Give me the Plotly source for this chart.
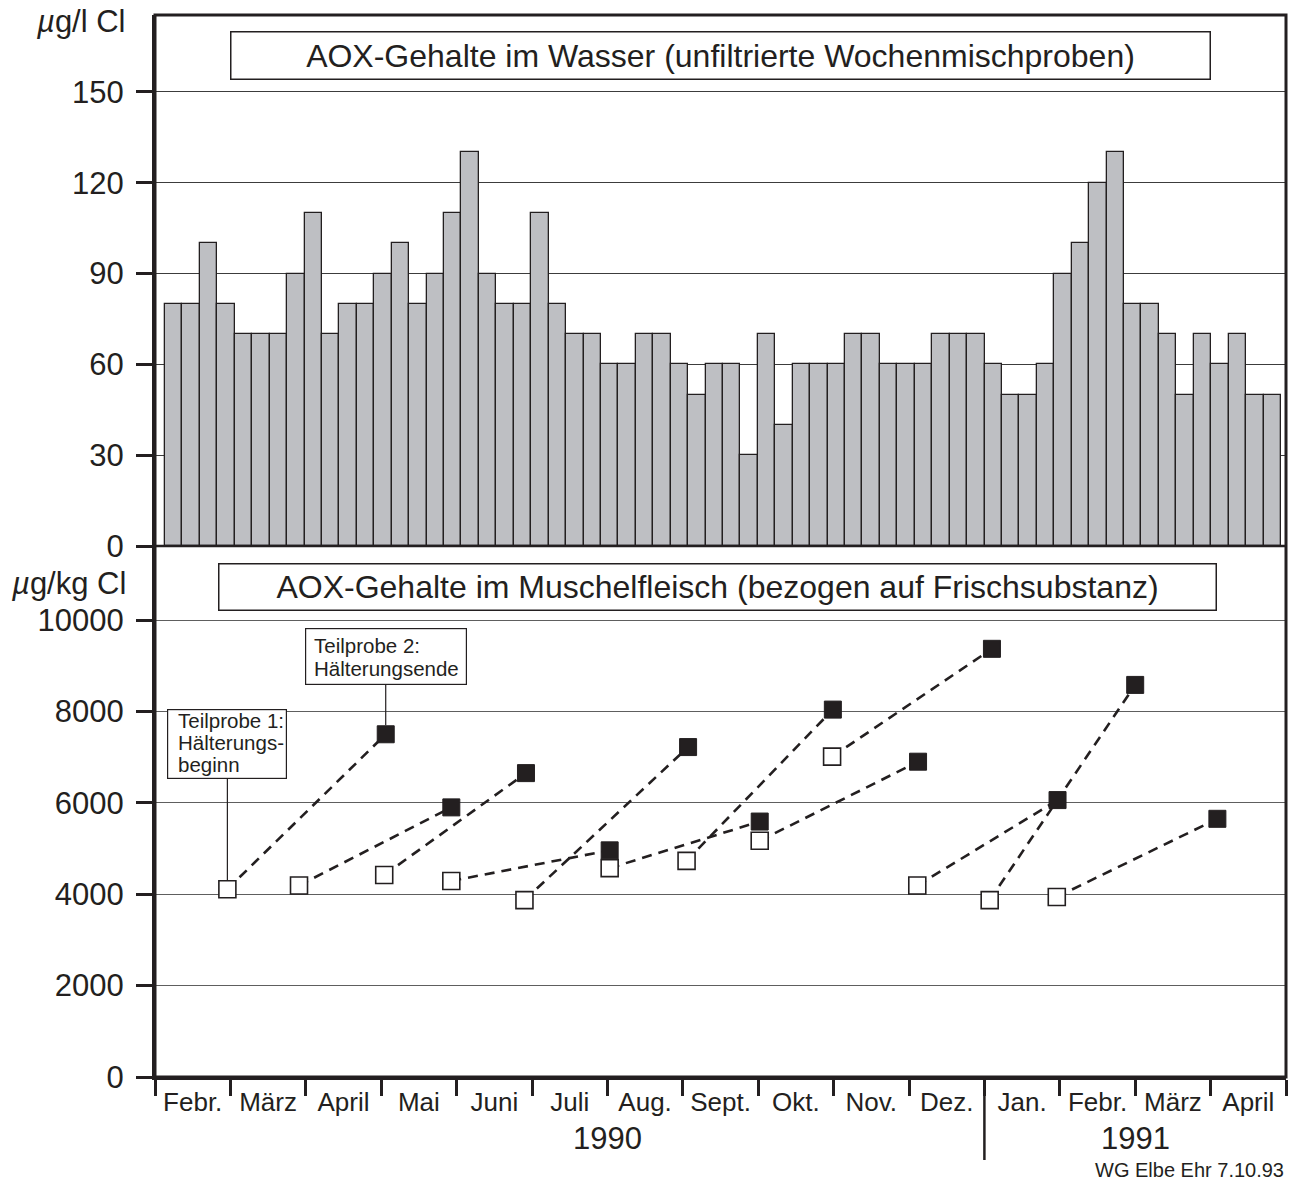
import plotly.graph_objects as go

# ---------------- data ----------------
months = ["Febr.", "März", "April", "Mai", "Juni", "Juli", "Aug.", "Sept.", "Okt.",
          "Nov.", "Dez.", "Jan.", "Febr.", "März", "April"]
years = ["1990", "1991"]
year_centers = [6.0, 13.0]          # in months since 1 Feb 1990
year_break = 11.0                   # Dez./Jan. boundary

# weekly AOX in water (µg/l Cl), 64 weekly composite samples
water_aox = [80, 80, 100, 80, 70, 70, 70, 90, 110, 70,
             80, 80, 90, 100, 80, 90, 110, 130, 90, 80,
             80, 110, 80, 70, 70, 60, 60, 70, 70, 60,
             50, 60, 60, 30, 70, 40, 60, 60, 60, 70,
             70, 60, 60, 60, 70, 70, 70, 60, 50, 50,
             60, 90, 100, 120, 130, 80, 80, 70, 50, 70,
             60, 70, 50, 50]
first_week_start = 0.133            # months since 1 Feb 1990 (5 Feb 1990)
week_len = 7 / 30.27                # one week in months

# mussel tissue AOX (µg/kg Cl): Teilprobe 1 (begin) and Teilprobe 2 (end)
begin_t = [0.96, 1.91, 3.04, 3.93, 4.90, 6.03, 7.05, 8.02, 8.98, 10.11, 11.07, 11.96]
begin_v = [4110, 4190, 4420, 4290, 3870, 4570, 4730, 5170, 7010, 4190, 3870, 3940]
end_t = [3.06, 3.93, 4.92, 6.03, 7.07, 8.02, 8.99, 10.12, 11.10, 11.97, 13.00, 14.09]
end_v = [7500, 5900, 6650, 4960, 7220, 5590, 8040, 6900, 9370, 6060, 8580, 5650]

water_ticks = [0, 30, 60, 90, 120, 150]
mussel_ticks = [0, 2000, 4000, 6000, 8000, 10000]
mussel_ticktext = ["0", "2000", "4000", "6000", "8000", "10000"]

callout1_lines = ["Teilprobe 1:", "Hälterungs-", "beginn"]
callout2_lines = ["Teilprobe 2:", "Hälterungsende"]

# ---------------- figure ----------------
INK = "#231f20"
FONT = "Liberation Sans, Arial, Helvetica, sans-serif"

week_centers = [first_week_start + (i + 0.5) * week_len for i in range(len(water_aox))]

fig = go.Figure()
fig.add_trace(go.Bar(
    x=week_centers, y=water_aox, width=week_len,
    marker=dict(color="#bebfc3", line=dict(color=INK, width=1.3)),
    xaxis="x", yaxis="y", showlegend=False, hoverinfo="skip"))

lx, ly = [], []
for bt, bv, et, ev in zip(begin_t, begin_v, end_t, end_v):
    lx += [bt, et, None]
    ly += [bv, ev, None]
fig.add_trace(go.Scatter(
    x=lx, y=ly, mode="lines", xaxis="x", yaxis="y2",
    line=dict(color=INK, width=2.6, dash="10px,7px"),
    showlegend=False, hoverinfo="skip"))
fig.add_trace(go.Scatter(
    x=begin_t, y=begin_v, mode="markers", xaxis="x", yaxis="y2",
    marker=dict(symbol="square", size=17, color="white", line=dict(color=INK, width=1.6)),
    showlegend=False))
fig.add_trace(go.Scatter(
    x=end_t, y=end_v, mode="markers", xaxis="x", yaxis="y2",
    marker=dict(symbol="square", size=17, color=INK, line=dict(color=INK, width=1)),
    showlegend=False))

H = 1182
mt, mb = 15, 105
ph = H - mt - mb


def py(px):
    """pixel row -> paper y"""
    return (H - mb - px) / ph


PW = 1303 - 155 - 17


def pxp(px):
    return (px - 155) / PW


axis_common = dict(
    showline=True, linewidth=3, linecolor=INK,
    ticks="outside", ticklen=16, tickwidth=3, tickcolor=INK,
    zeroline=False, tickfont=dict(size=31, color=INK, family=FONT),
    ticklabelstandoff=6, anchor="x", fixedrange=True,
)

fig.update_layout(
    width=1303, height=H,
    margin=dict(l=155, r=17, t=mt, b=mb, pad=0),
    paper_bgcolor="white", plot_bgcolor="white",
    font=dict(family=FONT, color=INK),
    showlegend=False, bargap=0,
    xaxis=dict(
        range=[0, 15], domain=[0, 1], anchor="y2",
        tickmode="array", tickvals=[i + 0.5 for i in range(len(months))], ticktext=months,
        ticks="", showline=True, linewidth=3, linecolor=INK,
        showgrid=False, zeroline=False,
        tickfont=dict(size=26, color=INK, family=FONT),
        ticklabelstandoff=0,
        minor=dict(tickmode="array", tickvals=list(range(len(months) + 1)),
                   ticks="outside", ticklen=16, tickwidth=2.5, tickcolor=INK, showgrid=False),
    ),
    yaxis=dict(domain=[0.5, 1], range=[0, 175.4], tickvals=water_ticks,
               showgrid=True, gridcolor="#3c3c3c", gridwidth=1.2, **axis_common),
    yaxis2=dict(domain=[0, 0.5], range=[0, 11620], tickmode="array",
                tickvals=mussel_ticks, ticktext=mussel_ticktext,
                showgrid=True, gridcolor="#5e5e5e", gridwidth=1.2, **axis_common),
    shapes=[
        dict(type="rect", xref="paper", yref="paper", x0=0, x1=1, y0=0, y1=1,
             line=dict(color=INK, width=3), layer="above"),
        dict(type="line", xref="paper", yref="paper", x0=0, x1=1, y0=0.5, y1=0.5,
             line=dict(color=INK, width=2.6), layer="above"),
        dict(type="line", xref="x", yref="paper", x0=year_break, x1=year_break,
             y0=0, y1=py(1160), line=dict(color=INK, width=2.5), layer="above"),
    ],
)

ann = []
# unit labels
ann.append(dict(text="<i>µ</i>g/l Cl", xref="paper", yref="paper", x=pxp(128), y=py(22),
                xanchor="right", yanchor="middle", showarrow=False,
                font=dict(size=31, color=INK, family=FONT)))
ann.append(dict(text="<i>µ</i>g/kg Cl", xref="paper", yref="paper", x=pxp(128), y=py(583),
                xanchor="right", yanchor="middle", showarrow=False,
                font=dict(size=31, color=INK, family=FONT)))
# panel titles
ann.append(dict(text="AOX-Gehalte im Wasser (unfiltrierte Wochenmischproben)",
                xref="paper", yref="paper", x=pxp(720), y=py(55.5),
                xanchor="center", yanchor="middle", showarrow=False,
                width=976, height=44, borderpad=1, bordercolor=INK, borderwidth=1.5,
                bgcolor="white", font=dict(size=32, color=INK, family=FONT)))
ann.append(dict(text="AOX-Gehalte im Muschelfleisch (bezogen auf Frischsubstanz)",
                xref="paper", yref="paper", x=pxp(717), y=py(587),
                xanchor="center", yanchor="middle", showarrow=False,
                width=994, height=43, borderpad=1, bordercolor=INK, borderwidth=1.5,
                bgcolor="white", font=dict(size=32, color=INK, family=FONT)))
# years
for yl, yc in zip(years, year_centers):
    ann.append(dict(text=yl, xref="x", yref="paper", x=yc, y=py(1138),
                    xanchor="center", yanchor="middle", showarrow=False,
                    font=dict(size=31, color=INK, family=FONT)))
ann.append(dict(text="WG Elbe Ehr 7.10.93", xref="paper", yref="paper", x=1, y=py(1170),
                xanchor="right", yanchor="middle", showarrow=False,
                font=dict(size=20, color=INK, family=FONT)))


def callout(x, y, lines, box_w, box_h, ay, text_dx, first_dy, line_step):
    # empty bordered box with a leader line to the marker
    ann.append(dict(text=" ", xref="x", yref="y2", x=x, y=y, ax=0, ay=ay,
                    axref="pixel", ayref="pixel", showarrow=True, arrowhead=0,
                    arrowwidth=1.2, arrowcolor=INK, standoff=9,
                    width=box_w, height=box_h, borderpad=0,
                    bordercolor=INK, borderwidth=1.2, bgcolor="white",
                    font=dict(size=20, color=INK, family=FONT)))
    for k, line in enumerate(lines):
        ann.append(dict(text=line, xref="x", yref="y2", x=x, y=y, showarrow=False,
                        xanchor="left", yanchor="middle",
                        xshift=text_dx, yshift=first_dy - k * line_step,
                        font=dict(size=20.5, color=INK, family=FONT)))


callout(begin_t[0], begin_v[0], callout1_lines, 118, 68, -145, -51, 169, 22)
callout(end_t[0], end_v[0], callout2_lines, 160, 55, -78, -74, 89, 23)

fig.update_layout(annotations=ann)

fig.write_html("out.html")
